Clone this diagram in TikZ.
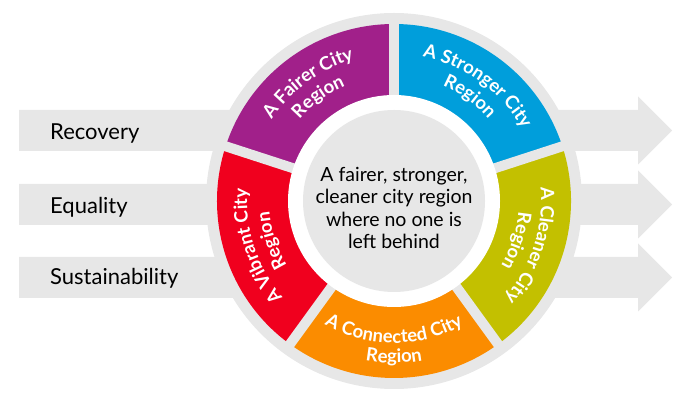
\documentclass[tikz,border=0pt]{standalone}
\usepackage{fontspec}
\setmainfont{Lato}
\usetikzlibrary{decorations.text}
\definecolor{bandgray}{HTML}{E7E7E7}
\definecolor{cpurple}{HTML}{A1208A}
\definecolor{cblue}{HTML}{009EDB}
\definecolor{cyellow}{HTML}{C3C000}
\definecolor{corange}{HTML}{FB8C00}
\definecolor{cred}{HTML}{F0001E}
\newcommand{\segfont}{\bfseries\fontsize{18.5}{18.5}\selectfont}
\begin{document}
\begin{tikzpicture}[x=1pt,y=1pt,
  band/.style={fill=bandgray},
  gapline/.style={draw=bandgray,line width=10pt},
  lefttext/.style={anchor=base west,inner sep=0pt,font=\fontsize{22}{22}\selectfont},
  seglabel/.style={decorate,decoration={text along path,text={#1},text align=center,text color=white}}
]
\useasboundingbox (0,0) rectangle (684,406);
\coordinate (C) at (394,205);
% arrows
\foreach \yc in {275.5,201.5,128.5}{
  \fill[band] (19,\yc-20.5) -- (638,\yc-20.5) -- (638,\yc-34) -- (672,\yc)
     -- (638,\yc+34) -- (638,\yc+20.5) -- (19,\yc+20.5) -- cycle;
}
% ring
\fill[bandgray] (C) circle[radius=188];
\fill[cpurple] (C) -- ++(90:177) arc[start angle=90,end angle=162,radius=177] -- cycle;
\fill[cred] (C) -- ++(162:177) arc[start angle=162,end angle=234,radius=177] -- cycle;
\fill[corange] (C) -- ++(234:177) arc[start angle=234,end angle=306,radius=177] -- cycle;
\fill[cyellow] (C) -- ++(306:177) arc[start angle=306,end angle=378,radius=177] -- cycle;
\fill[cblue] (C) -- ++(18:177) arc[start angle=18,end angle=90,radius=177] -- cycle;
\foreach \a in {90,162,234,306,18}{
  \draw[gapline] (C) -- ++(\a:182);
}
\fill[white] (C) circle[radius=106];
\fill[bandgray] (C) circle[radius=91];
% left texts
\node[lefttext] (rec) at (50,266) {Recovery};
\node[lefttext] (equ) at (50,192) {Equality};
\node[lefttext] (sus) at (50,121) {Sustainability};
% centre text
\node[align=center,font=\fontsize{19.5}{22.5}\selectfont] (ctr) at (394,198)
  {A fairer, stronger,\\cleaner city region\\where no one is\\left behind};
% segment labels
\path[seglabel={|\segfont|A Fairer City}] ([shift={(162:147)}]C) arc[start angle=162,end angle=90,radius=147];
\path[seglabel={|\segfont|Region}] ([shift={(162:125)}]C) arc[start angle=162,end angle=90,radius=125];
\path[seglabel={|\segfont|A Stronger City}] ([shift={(90:147)}]C) arc[start angle=90,end angle=18,radius=147];
\path[seglabel={|\segfont|Region}] ([shift={(90:125)}]C) arc[start angle=90,end angle=18,radius=125];
\path[seglabel={|\segfont|A Cleaner City}] ([shift={(18:147)}]C) arc[start angle=18,end angle=-54,radius=147];
\path[seglabel={|\segfont|Region}] ([shift={(18:125)}]C) arc[start angle=18,end angle=-54,radius=125];
\path[seglabel={|\segfont|A Vibrant City}] ([shift={(234:147)}]C) arc[start angle=234,end angle=162,radius=147];
\path[seglabel={|\segfont|Region}] ([shift={(234:125)}]C) arc[start angle=234,end angle=162,radius=125];
\path[seglabel={|\segfont|A Connected City}] ([shift={(234:142)}]C) arc[start angle=234,end angle=306,radius=142];
\path[seglabel={|\segfont|Region}] ([shift={(234:162)}]C) arc[start angle=234,end angle=306,radius=162];
\end{tikzpicture}
\end{document}
